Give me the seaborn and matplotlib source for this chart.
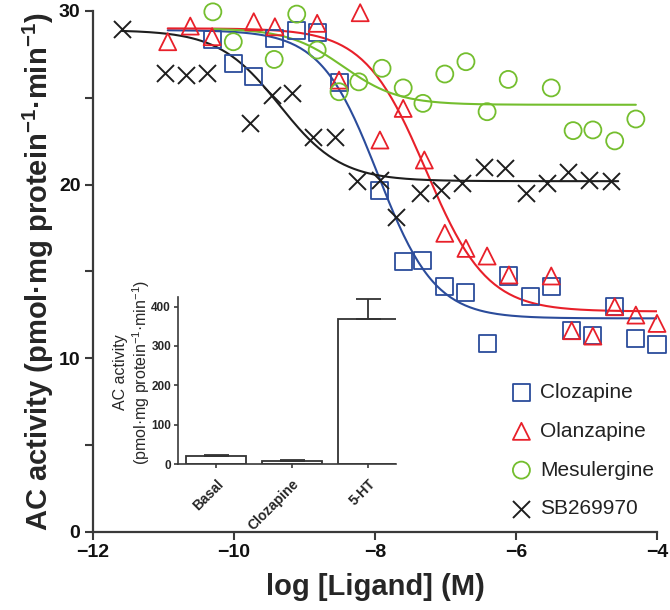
import numpy as np
import pandas as pd
import matplotlib
matplotlib.use("Agg")
import matplotlib.pyplot as plt
import seaborn as sns

# ---- dose-response points ----
cloz_x = [-10.31, -10.01, -9.72, -9.42, -9.11, -8.82, -8.51, -7.93, -7.60, -7.32, -7.01,
          -6.71, -6.41, -6.10, -5.80, -5.50, -5.21, -4.91, -4.60, -4.30, -4.00]
cloz_y = [28.33, 26.98, 26.25, 28.42, 28.86, 28.77, 25.87, 19.69, 15.56, 15.66, 14.12,
          13.78, 10.86, 14.74, 13.55, 14.12, 11.59, 11.30, 12.97, 11.15, 10.82]

olan_x = [-10.94, -10.62, -10.31, -9.72, -9.42, -8.82, -8.51, -8.21, -7.93, -7.60, -7.30,
          -7.01, -6.71, -6.41, -6.10, -5.50, -5.21, -4.91, -4.60, -4.30, -4.00]
olan_y = [28.23, 29.13, 28.52, 29.38, 29.09, 29.29, 26.02, 29.90, 22.57, 24.39, 21.42,
          17.20, 16.33, 15.89, 14.80, 14.74, 11.59, 11.28, 12.97, 12.49, 12.01]

mesul_x = [-10.30, -10.01, -9.43, -9.11, -8.82, -8.51, -8.23, -7.90, -7.60, -7.32, -7.01,
           -6.71, -6.41, -6.11, -5.50, -5.19, -4.91, -4.60, -4.30]
mesul_y = [29.95, 28.23, 27.21, 29.82, 27.75, 25.35, 25.92, 26.70, 25.57, 24.68, 26.37,
           27.08, 24.20, 26.06, 25.57, 23.11, 23.15, 22.52, 23.78]

sb_x = [-11.59, -10.98, -10.68, -10.38, -9.77, -9.46, -9.18, -8.88, -8.57, -8.26, -7.93,
        -7.70, -7.36, -7.06, -6.77, -6.45, -6.16, -5.86, -5.56, -5.26, -4.96, -4.65]
sb_y = [28.96, 26.42, 26.31, 26.42, 23.55, 25.16, 25.27, 22.74, 22.74, 20.21, 20.26,
        18.13, 19.52, 19.69, 20.09, 21.01, 20.96, 19.52, 20.09, 20.73, 20.26, 20.21]

# ---- fitted sigmoid curves (top, bottom, logEC50, hill, x range) ----
fit_names = ["Clozapine", "Olanzapine", "Mesulergine", "SB269970"]
fit_top = [28.9, 29.0, 29.0, 28.9]
fit_bottom = [12.3, 12.7, 24.6, 20.2]
fit_logec50 = [-7.96, -7.28, -8.45, -9.35]
fit_hill = [1.07, 1.0, 1.1, 1.0]
fit_xmin = [-10.94, -10.94, -10.30, -11.59]
fit_xmax = [-4.00, -4.00, -4.30, -4.55]

# ---- inset bars ----
inset_cats = ["Basal", "Clozapine", "5-HT"]
inset_vals = [22, 9, 369]
inset_sem = [2, 1.5, 50]

colors = {"Clozapine": "#2b4c9b", "Olanzapine": "#e8202a",
          "Mesulergine": "#74be2e", "SB269970": "#1e1e1e"}
markers = {"Clozapine": "s", "Olanzapine": "^", "Mesulergine": "o", "SB269970": "x"}

sns.set_style("ticks")
plt.rcParams["font.family"] = ["Liberation Sans", "DejaVu Sans"]
plt.rcParams["mathtext.fontset"] = "custom"
plt.rcParams["mathtext.rm"] = "Liberation Sans"
plt.rcParams["mathtext.bf"] = "Liberation Sans:bold"

fig = plt.figure(figsize=(6.7, 6.1), dpi=100)
ax = fig.add_axes([0.1388, 0.1279, 0.8418, 0.8541])

spine_col = "#3a3a3a"

# curves
curves = []
for i, name in enumerate(fit_names):
    xs = np.linspace(fit_xmin[i], fit_xmax[i], 200)
    ys = fit_bottom[i] + (fit_top[i] - fit_bottom[i]) / (1 + 10 ** ((xs - fit_logec50[i]) * fit_hill[i]))
    curves.append(pd.DataFrame({"x": xs, "y": ys, "ligand": name}))
curves = pd.concat(curves)
for name in fit_names:
    sns.lineplot(data=curves[curves.ligand == name], x="x", y="y", color=colors[name],
                 lw=1.5, ax=ax, legend=False, zorder=2)

# points
points = {"Clozapine": (cloz_x, cloz_y), "Olanzapine": (olan_x, olan_y),
          "Mesulergine": (mesul_x, mesul_y), "SB269970": (sb_x, sb_y)}
for name, (px, py) in points.items():
    df = pd.DataFrame({"x": px, "y": py})
    if markers[name] == "x":
        sns.scatterplot(data=df, x="x", y="y", marker="x", s=150, color=colors[name],
                        linewidth=1.4, ax=ax, label=name, zorder=3, clip_on=False)
    else:
        sns.scatterplot(data=df, x="x", y="y", marker=markers[name], s=150,
                        color=colors[name], facecolor="none", edgecolor=colors[name],
                        linewidth=1.3, ax=ax, label=name, zorder=3, clip_on=False)

ax.set_xlim(-12, -4)
ax.set_ylim(0, 30)
ax.set_xticks([-12, -10, -8, -6, -4])
ax.set_xticklabels(["\u221212", "\u221210", "\u22128", "\u22126", "\u22124"])
ax.set_yticks([0, 10, 20, 30])
ax.set_yticks([5, 15, 25], minor=True)
for lab in ax.get_xticklabels() + ax.get_yticklabels():
    lab.set_fontweight("bold")
ax.tick_params(axis="both", which="major", labelsize=14, length=6, width=1.5,
               color=spine_col, labelcolor="#111111", pad=3)
ax.tick_params(axis="y", which="minor", length=6, width=1.5, color=spine_col)
sns.despine(ax=ax)
for sp in ["left", "bottom"]:
    ax.spines[sp].set_color(spine_col)
    ax.spines[sp].set_linewidth(1.6)

ax.set_xlabel("log [Ligand] (M)", fontsize=21, fontweight="bold", labelpad=8)
ax.set_ylabel(r"AC activity (pmol·mg protein$^{\mathbf{-1}}$·min$^{\mathbf{-1}}$)",
              fontsize=21, fontweight="bold", labelpad=2)

ax.legend(loc="upper left", bbox_to_anchor=(511 / 670, 1 - 383 / 610),
          bbox_transform=fig.transFigure, frameon=False, fontsize=15,
          handlelength=1.0, handletextpad=0.4, labelspacing=0.95,
          borderpad=0, borderaxespad=0, labelcolor="#222222")

# ---- inset bar chart ----
ins = fig.add_axes([0.2657, 0.2389, 0.326, 0.2748])
ins.set_facecolor("none")
bars = pd.DataFrame({"cat": inset_cats, "val": inset_vals})
sns.barplot(data=bars, x="cat", y="val", color="white", edgecolor="#333333",
            linewidth=1.3, width=0.8, errorbar=None, ax=ins)
pos = np.arange(len(inset_cats))
ins.errorbar(pos, inset_vals, yerr=[np.zeros(len(inset_sem)), inset_sem], fmt="none",
             ecolor="#333333", elinewidth=1.3, capsize=9, capthick=1.3)
ins.set_xlim(-0.5, 2.375)
ins.set_ylim(0, 425)
ins.set_yticks([0, 100, 200, 300, 400])
ins.set_xlabel("")
ins.set_ylabel("AC activity\n" + r"(pmol·mg protein$^{\mathrm{-1}}$·min$^{\mathrm{-1}}$)",
               fontsize=11.5, linespacing=1.1)
ins.yaxis.set_label_coords(-0.12, 0.55)
ins.tick_params(axis="y", labelsize=8.5, length=3, width=1.2, color=spine_col, pad=2)
ins.tick_params(axis="x", labelsize=10, length=3, width=1.2, color=spine_col, pad=6)
for lab in ins.get_yticklabels():
    lab.set_fontweight("bold")
for lab in ins.get_xticklabels():
    lab.set_fontweight("bold")
    lab.set_rotation(45)
    lab.set_ha("right")
    lab.set_rotation_mode("anchor")
sns.despine(ax=ins)
for sp in ["left", "bottom"]:
    ins.spines[sp].set_color(spine_col)
    ins.spines[sp].set_linewidth(1.2)

fig.savefig("out.png", dpi=100)
